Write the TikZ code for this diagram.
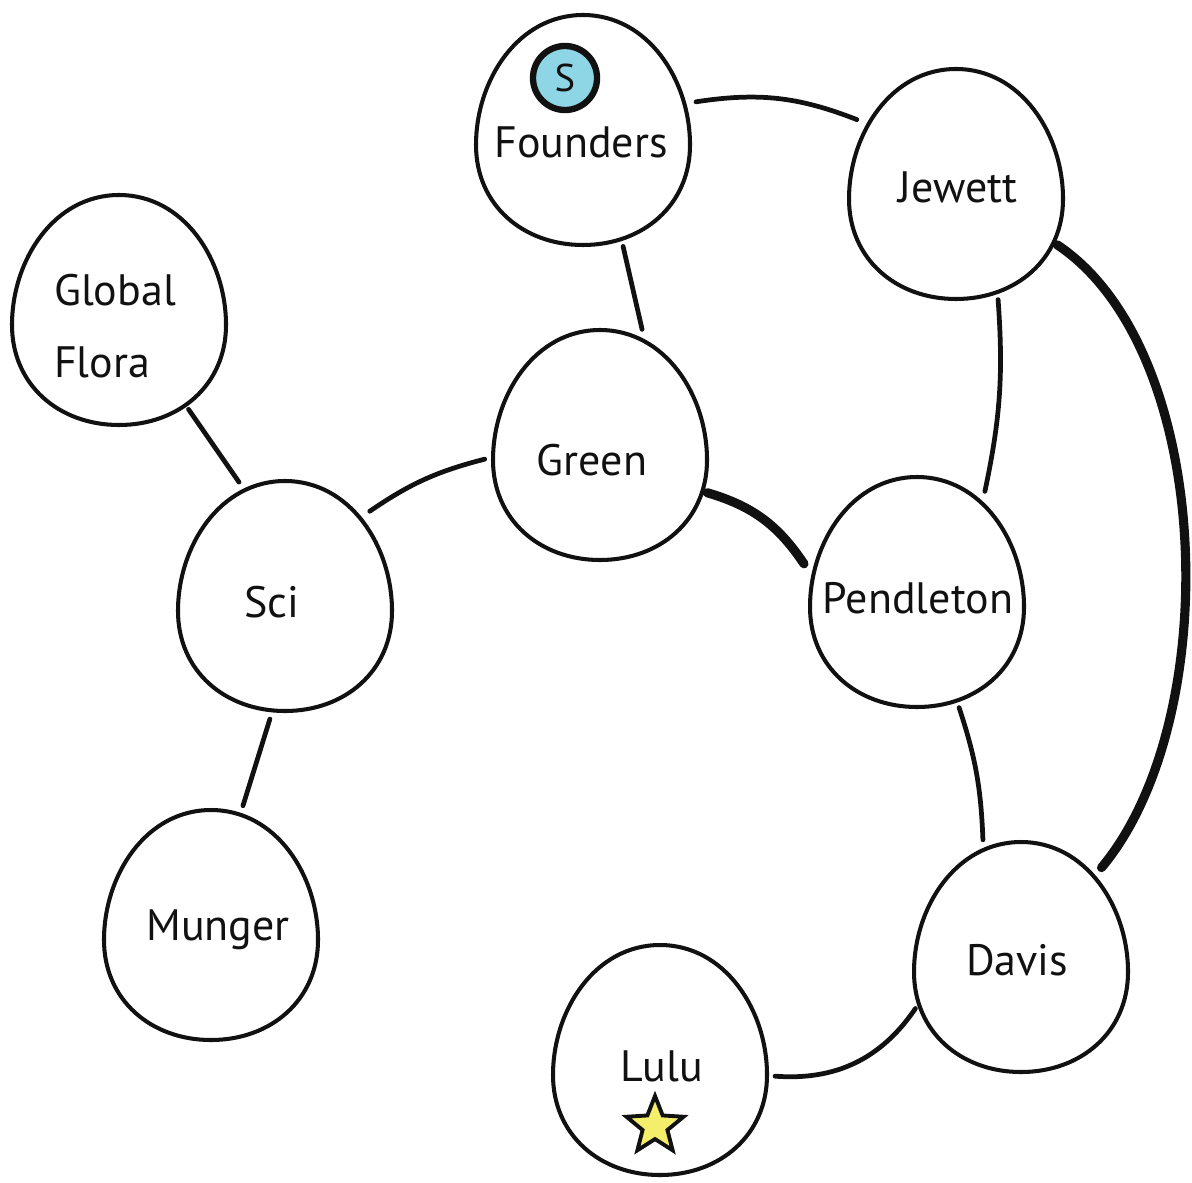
\documentclass[tikz,border=0pt]{standalone}
\usepackage{fontspec}
\setmainfont{PT Sans}
\usetikzlibrary{shapes.geometric}
\definecolor{ink}{HTML}{111111}
\definecolor{sblue}{HTML}{8ED6E6}
\definecolor{staryellow}{HTML}{F4EE6A}
\begin{document}
\begin{tikzpicture}[x=0.01cm,y=-0.01cm,
  hub/.style={ellipse,draw=none,minimum width=2.14cm,minimum height=2.3cm,inner sep=0pt,outer sep=0.09cm},
  name text/.style={font=\fontsize{12.5}{20.5}\selectfont,text=ink},
  link/.style={draw=ink,line width=1.35pt,line cap=round},
  strong link/.style={draw=ink,line width=2.6pt,line cap=round},
  outline/.style={draw=ink,line width=1.15pt},
  pics/egg/.style={code={
    \draw[outline] (0,-115) .. controls (65,-115) and (107,-50) .. (107,15)
      .. controls (107,75) and (60,115) .. (0,115)
      .. controls (-60,115) and (-107,75) .. (-107,15)
      .. controls (-107,-50) and (-65,-115) .. (0,-115) -- cycle;}}
]
\useasboundingbox (0,0) rectangle (1192,1182);

% hubs (invisible ellipses used as connector targets)
\node[hub] (founders)  at (583,130) {};
\node[hub] (jewett)    at (956,184) {};
\node[hub] (flora)     at (119,310) {};
\node[hub] (green)     at (600,445) {};
\node[hub] (sci)       at (285,596) {};
\node[hub] (pendleton) at (917,592) {};
\node[hub] (munger)    at (211,925) {};
\node[hub] (davis)     at (1021,957) {};
\node[hub] (lulu)      at (660,1060) {};

% egg outlines
\foreach \n in {founders,jewett,flora,green,sci,pendleton,munger,davis,lulu}
  \pic at (\n.center) {egg};

% names
\node[name text] (founders-name)  at (581,142) {Founders};
\node[name text] (jewett-name)    at (958,187) {Jewett};
\node[name text,align=left] (flora-name) at (115,326) {Global\\Flora};
\node[name text] (green-name)     at (592,460) {Green};
\node[name text] (sci-name)       at (272,602) {Sci};
\node[name text] (pendleton-name) at (918,598) {Pendleton};
\node[name text] (munger-name)    at (218,930) {Munger};
\node[name text] (davis-name)     at (1017,960) {Davis};
\node[name text] (lulu-name)      at (662,1066) {Lulu};

% badges
\node[circle,draw=ink,line width=1.8pt,fill=sblue,minimum size=0.64cm,inner sep=0pt,
      font=\fontsize{11}{13}\selectfont,text=ink] (founders-badge) at (565,78) {S};
\node[star,star points=5,star point ratio=2.3,minimum size=0.6cm,inner sep=0pt,
      fill=staryellow,draw=ink,line width=1.1pt] (lulu-star) at (655,1126) {};

% connectors
\draw[link] (founders.14) to[bend left=15] (jewett.147);
\draw[link] (founders.-71) -- (green.70);
\draw[link] (green.187) to[bend right=10] (sci.45);
\draw[link] (flora.-55) -- (sci.112);
\draw[link] (sci.-97) -- (munger.75);
\draw[strong link] (green.-24) to[bend left=20] (pendleton.166);
\draw[link] (jewett.-70) to[bend left=8] (pendleton.56);
\draw[strong link] (jewett.-31) .. controls (1215,350) and (1225,720) .. (davis.48);
\draw[link] (pendleton.-70) to[bend left=8] (davis.108);
\draw[link] (davis.206) to[bend left=30] (lulu.-8);
\end{tikzpicture}
\end{document}
